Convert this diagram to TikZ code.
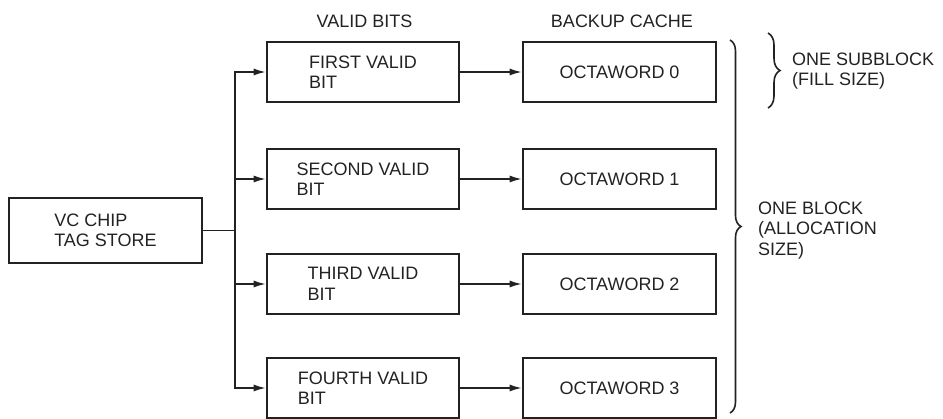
\documentclass[tikz,border=0pt]{standalone}
\usepackage{fontspec}
\setmainfont{Liberation Sans}
\usetikzlibrary{arrows.meta,decorations.pathreplacing}
\definecolor{ink}{HTML}{222222}
\begin{document}
\begin{tikzpicture}[x=1pt,y=-1pt,
  every node/.style={font=\fontsize{18}{20.5}\selectfont, text=ink},
  box/.style={draw=ink, line width=2.6pt, rectangle, inner sep=0pt},
  tagbox/.style={box, minimum width=193pt, minimum height=65pt, align=left},
  bitbox/.style={box, minimum width=192pt, minimum height=60pt, align=left},
  wordbox/.style={box, minimum width=193pt, minimum height=60pt, align=center},
  link/.style={draw=ink, line width=1.6pt},
  arr/.style={link, -{Latex[length=12pt,width=7pt]}},
  brc/.style={draw=ink, line width=1.6pt, decorate},
  note/.style={align=left, anchor=west, inner sep=0pt}]
\useasboundingbox (0,0) rectangle (943,419);

% column headings
\node (hbits) at (364.5,21) {VALID BITS};
\node (hcache) at (622,21) {BACKUP CACHE};

% tag store
\node[tagbox] (tag) at (105.5,230.5) {VC CHIP\\TAG STORE};
\coordinate (j) at (235,230.5);

% valid bits and octawords
\node[bitbox] (v0) at (363,72) {FIRST VALID\\BIT};
\node[bitbox] (v1) at (363,179) {SECOND VALID\\BIT};
\node[bitbox] (v2) at (363,284) {THIRD VALID\\BIT};
\node[bitbox] (v3) at (363,388) {FOURTH VALID\\BIT};

\node[wordbox] (o0) at (619.5,72) {OCTAWORD 0};
\node[wordbox] (o1) at (619.5,179) {OCTAWORD 1};
\node[wordbox] (o2) at (619.5,284) {OCTAWORD 2};
\node[wordbox] (o3) at (619.5,388) {OCTAWORD 3};

% connectors
\draw[link] (tag.east) -- (j);
\foreach \i in {0,1,2,3}{
  \draw[arr] (j) |- (v\i.west);
  \draw[arr] (v\i.east) -- (o\i.west);
}

% braces
\coordinate (b0) at (730,40);
\coordinate (b1) at (730,413);
\draw[brc, decoration={brace, amplitude=11pt}] (b0) -- (b1);
\coordinate (s0) at (768,33);
\coordinate (s1) at (768,108);
\draw[brc, decoration={brace, amplitude=12pt}] (s0) -- (s1);

\node[note] (nsub) at (792,71) {ONE SUBBLOCK\\(FILL SIZE)};
\node[note] (nblk) at (758,230.5) {ONE BLOCK\\(ALLOCATION\\SIZE)};
\end{tikzpicture}
\end{document}
